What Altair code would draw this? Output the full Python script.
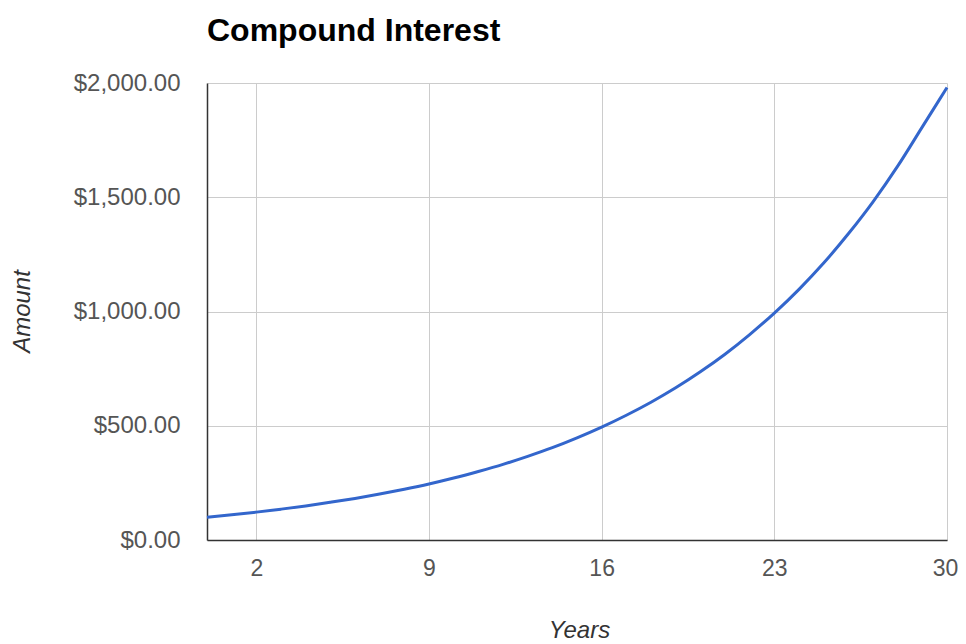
import altair as alt
import pandas as pd

years = list(range(0, 31))
amounts = [100, 110, 122, 135, 149, 165, 182, 201, 222, 245, 271, 300, 331, 366,
           404, 447, 494, 546, 603, 666, 736, 813, 899, 993, 1097, 1212, 1340,
           1480, 1636, 1808, 1980]
x_ticks = [2, 9, 16, 23, 30]
y_ticks = [0, 500, 1000, 1500, 2000]

df = pd.DataFrame({"Years": years, "Amount": amounts})

FONT = "Liberation Sans"

chart = alt.Chart(df).mark_line(color="#3366cc", strokeWidth=3, interpolate="monotone").encode(
    x=alt.X("Years:Q", scale=alt.Scale(domain=[0, 30], nice=False, zero=False),
            axis=alt.Axis(values=x_ticks, title="Years", ticks=False, labelPadding=17,
                          labelFlush=False,
                          labelOffset={"expr": "datum.value == 30 ? -2 : 0"},
                          labelFontSize=23, titleFontSize=24, titleFontStyle="italic",
                          titleFontWeight="normal", titleY=97, titleBaseline="alphabetic",
                          titleX=372)),
    y=alt.Y("Amount:Q", scale=alt.Scale(domain=[0, 2000], nice=False),
            axis=alt.Axis(values=y_ticks, format="$,.2f", title="Amount", ticks=False,
                          labelFlush=False,
                          labelPadding=27, labelFontSize=24, titleFontSize=24,
                          titleFontStyle="italic", titleFontWeight="normal",
                          titleAngle=-90, titleX=-185, titleY=228,
                          titleAlign="center", titleBaseline="middle")),
).properties(
    width=740, height=457,
    title=alt.TitleParams("Compound Interest", anchor="start",
                          fontSize=32, fontWeight="bold", font=FONT, color="#000000",
                          offset=23, dx=197),
    autosize=alt.AutoSizeParams(type="none"),
    padding={"left": 199, "top": 75, "right": 11, "bottom": 101},
).configure_axis(
    labelFont=FONT, titleFont=FONT, labelColor="#555555", titleColor="#333333",
    gridColor="#cccccc", gridWidth=1, domainColor="#333333", domainWidth=1.5,
    grid=True,
).configure_view(stroke=None)

chart.save("out.html", embed_options={"renderer": "svg", "actions": False})
